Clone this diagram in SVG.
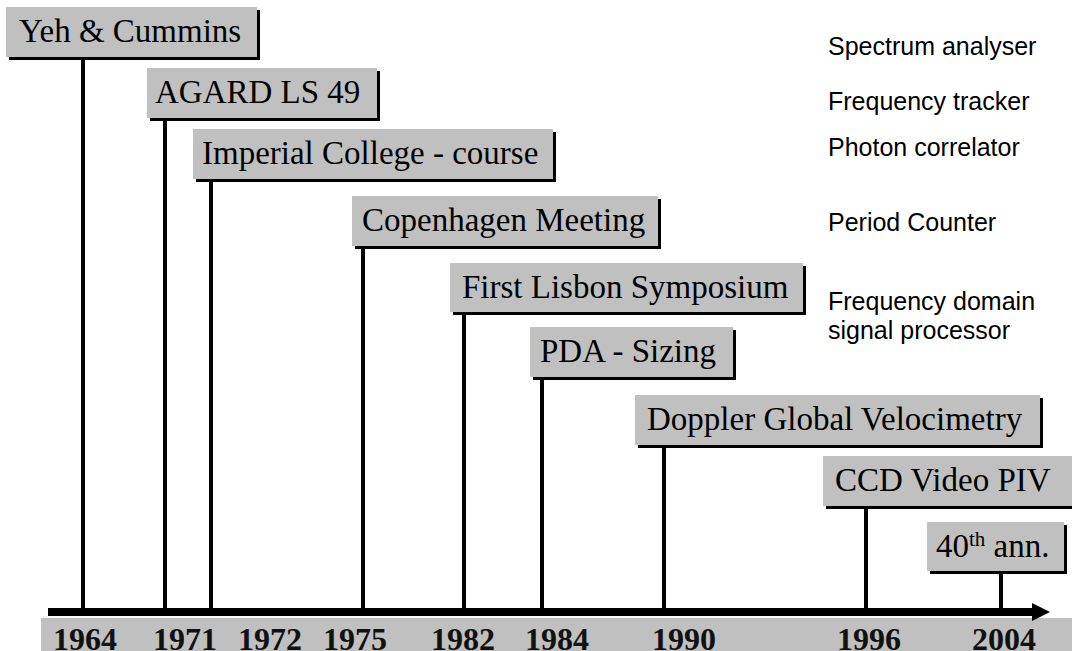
<svg xmlns="http://www.w3.org/2000/svg" width="1072" height="651" viewBox="0 0 1072 651">
<style>
.shadow{fill:#000}
.box{fill:#C0C0C0}
.lbl{font-family:"Liberation Serif","Times New Roman",serif;font-size:33px;fill:#000}
.yr{font-family:"Liberation Serif","Times New Roman",serif;font-size:32px;font-weight:bold;fill:#111;text-anchor:middle}
.side{font-family:"Liberation Sans",Arial,sans-serif;font-size:25px;fill:#000}
.stem{stroke:#000;stroke-width:4;fill:none}
</style>
<rect width="1072" height="651" fill="#fff"/>
<g id="year-band">
<rect x="41" y="618" width="1031" height="33" fill="#C0C0C0"/>
<text class="yr" x="85" y="650">1964</text>
<text class="yr" x="185" y="650">1971</text>
<text class="yr" x="270" y="650">1972</text>
<text class="yr" x="355" y="650">1975</text>
<text class="yr" x="463" y="650">1982</text>
<text class="yr" x="557" y="650">1984</text>
<text class="yr" x="684" y="650">1990</text>
<text class="yr" x="869" y="650">1996</text>
<text class="yr" x="1004" y="650">2004</text>
</g>
<g id="connectors">
<line class="stem" x1="83" y1="60" x2="83" y2="610"/>
<line class="stem" x1="165" y1="121" x2="165" y2="610"/>
<line class="stem" x1="211" y1="182" x2="211" y2="610"/>
<line class="stem" x1="363" y1="249" x2="363" y2="610"/>
<line class="stem" x1="464" y1="315" x2="464" y2="610"/>
<line class="stem" x1="542" y1="380" x2="542" y2="610"/>
<line class="stem" x1="664" y1="448" x2="664" y2="610"/>
<line class="stem" x1="866" y1="509" x2="866" y2="610"/>
<line class="stem" x1="1001" y1="574" x2="1001" y2="610"/>
<rect x="48" y="608" width="986" height="8" fill="#000"/>
<polygon points="1032,603 1050,612 1032,621" fill="#000"/>
</g>
<g id="n-yeh">
<rect class="shadow" x="9" y="10" width="251" height="50"/>
<rect class="box" x="6" y="7" width="251" height="50"/>
<text class="lbl" x="19" y="42">Yeh &amp; Cummins</text>
</g>
<g id="n-agard">
<rect class="shadow" x="150" y="71" width="230" height="50"/>
<rect class="box" x="147" y="68" width="230" height="50"/>
<text class="lbl" x="155" y="103">AGARD LS 49</text>
</g>
<g id="n-imperial">
<rect class="shadow" x="196" y="132" width="360" height="50"/>
<rect class="box" x="193" y="129" width="360" height="50"/>
<text class="lbl" x="202" y="164">Imperial College - course</text>
</g>
<g id="n-copenhagen">
<rect class="shadow" x="355" y="199" width="306" height="50"/>
<rect class="box" x="352" y="196" width="306" height="50"/>
<text class="lbl" x="362" y="231">Copenhagen Meeting</text>
</g>
<g id="n-lisbon">
<rect class="shadow" x="453" y="266" width="353" height="49"/>
<rect class="box" x="450" y="263" width="353" height="49"/>
<text class="lbl" x="462" y="298">First Lisbon Symposium</text>
</g>
<g id="n-pda">
<rect class="shadow" x="533" y="330" width="203" height="50"/>
<rect class="box" x="530" y="327" width="203" height="50"/>
<text class="lbl" x="540" y="362">PDA - Sizing</text>
</g>
<g id="n-doppler">
<rect class="shadow" x="638" y="398" width="405" height="50"/>
<rect class="box" x="635" y="395" width="405" height="50"/>
<text class="lbl" x="647" y="430">Doppler Global Velocimetry</text>
</g>
<g id="n-ccd">
<rect class="shadow" x="826" y="459" width="260" height="50"/>
<rect class="box" x="823" y="456" width="260" height="50"/>
<text class="lbl" x="835" y="491">CCD Video PIV</text>
</g>
<g id="n-40th">
<rect class="shadow" x="930" y="525" width="137" height="49"/>
<rect class="box" x="927" y="522" width="137" height="49"/>
<text class="lbl" x="936" y="557">40<tspan font-size="21" dy="-11">th</tspan><tspan dy="11"> ann.</tspan></text>
</g>
<g id="side-notes">
<text class="side" x="828" y="55">Spectrum analyser</text>
<text class="side" x="828" y="110">Frequency tracker</text>
<text class="side" x="828" y="156">Photon correlator</text>
<text class="side" x="828" y="231">Period Counter</text>
<text class="side" x="828" y="310">Frequency domain</text>
<text class="side" x="828" y="339">signal processor</text>
</g>
</svg>
